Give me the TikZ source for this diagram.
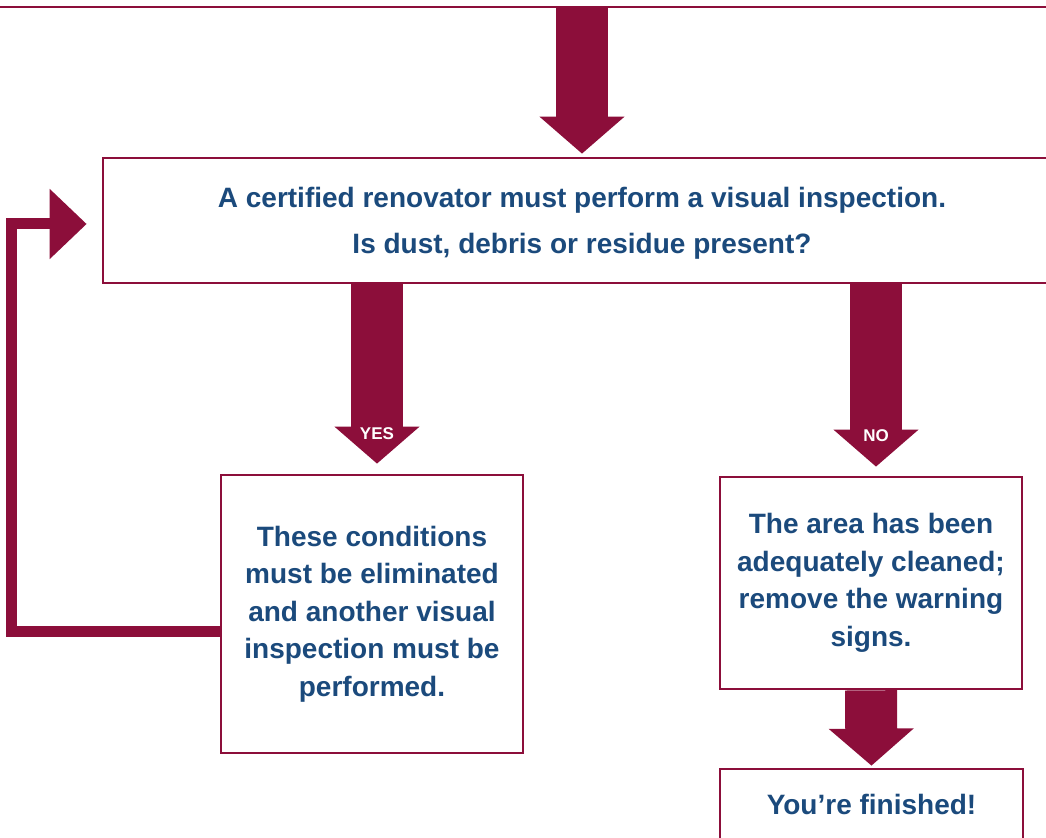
\documentclass[tikz,border=0pt]{standalone}
\usepackage{fontspec}
\setmainfont{Liberation Sans}
\usepackage{xcolor}
\usetikzlibrary{arrows.meta, positioning, calc}

\definecolor{maroon}{HTML}{8C0E3A}
\definecolor{textblue}{HTML}{1B4A7C}

\tikzset{
    box/.style={draw=maroon, line width=1.35pt, fill=white, text=textblue, align=center, inner sep=0pt,
        font=\bfseries\fontsize{14}{18.75}\selectfont},
    bigarrow/.style={draw=maroon, line width=26pt, -{Triangle[length=18.5pt, width=41.5pt]}},
    looparrow/.style={draw=maroon, line width=5.5pt, -{Triangle[length=18.5pt, width=34pt]}},
    flag/.style={text=white, font=\bfseries\fontsize{8.5}{10}\selectfont, inner sep=0pt}
}

\begin{document}
\begin{tikzpicture}[x=0.5pt, y=-0.5pt]
        \useasboundingbox (0,0) rectangle (1046,838);
        \clip (0,0) rectangle (1046,838);

        % Boxes
        \node (prev) [box, minimum width=540pt, minimum height=60pt, anchor=south] at (523,8.5) {};

        \node (check) [box, minimum width=479pt, minimum height=62.5pt, text height=36pt, font=\bfseries\fontsize{14}{23}\selectfont] at (582,220.5)
            {A certified renovator must perform a visual inspection.\\Is dust, debris or residue present?};

        \node (clean) [box, minimum width=151pt, minimum height=139pt] at (372,614)
            {These conditions\\must be eliminated\\and another visual\\inspection must be\\performed.};
        \node (ok) [box, minimum width=151pt, minimum height=106pt] at (871,583)
            {The area has been\\adequately cleaned;\\remove the warning\\signs.};
        \node (done) [box, minimum width=151.5pt, minimum height=40pt, text depth=0pt] at (871.5,809)
            {\raisebox{4.5pt}{You’re finished!}};

        % Arrows
        \draw[bigarrow, shorten >=1.5pt] (prev.south -| check.north) -- (check.north);
        \draw[bigarrow, shorten >=5pt] ([xshift=2.5pt]check.south -| clean.north) -- node[flag, pos=0.79] {YES} ([xshift=2.5pt]clean.north);
        \draw[bigarrow, shorten >=4.5pt] ([xshift=2.5pt]check.south -| ok.north) -- node[flag, pos=0.79] {NO} ([xshift=2.5pt]ok.north);
        \draw[bigarrow, shorten >=1pt] (ok.south) -- (done.north);
        \draw[looparrow, shorten >=7.5pt] ([yshift=-9pt]clean.west) -- ++(-208,0) |- ([yshift=-1.75pt]check.west);
\end{tikzpicture}
\end{document}
